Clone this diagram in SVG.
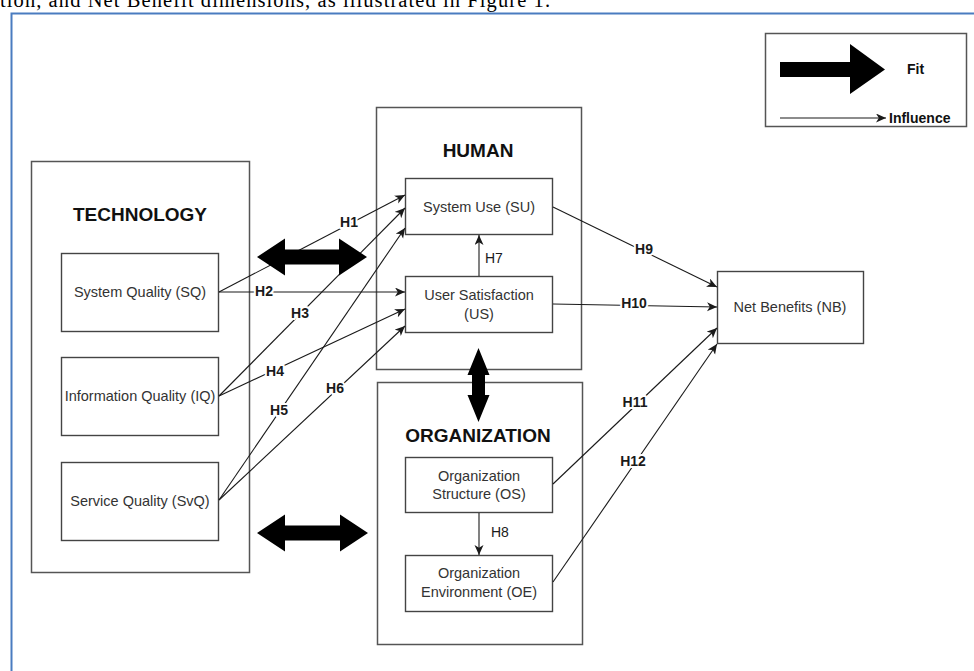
<svg xmlns="http://www.w3.org/2000/svg" width="974" height="671" viewBox="0 0 974 671">
<defs>
<style>
.grp{fill:#fff;stroke:#555;stroke-width:1.5}
.box{fill:#fff;stroke:#444;stroke-width:1.4}
.ttl{font-family:"Liberation Sans",Arial,sans-serif;font-size:19px;font-weight:bold;fill:#111;text-anchor:middle}
.txt{font-family:"Liberation Sans",Arial,sans-serif;font-size:14.5px;fill:#333;text-anchor:middle}
.ln{fill:none;stroke:#1a1a1a;stroke-width:1.1}
.lbl{font-family:"Liberation Sans",Arial,sans-serif;font-size:14px;font-weight:bold;fill:#1a1a1a;text-anchor:middle;dominant-baseline:central;paint-order:stroke;stroke:#fff;stroke-width:4px;stroke-linejoin:round}
.lblr{font-family:"Liberation Sans",Arial,sans-serif;font-size:14px;fill:#1a1a1a;dominant-baseline:central}
.fit{fill:#000}
.leg{font-family:"Liberation Sans",Arial,sans-serif;font-size:14px;font-weight:bold;fill:#111;dominant-baseline:central}
</style>
<marker id="ah" markerUnits="userSpaceOnUse" markerWidth="11" markerHeight="10" refX="10" refY="4.5" orient="auto">
<path d="M0,0 L10,4.5 L0,9 L2.8,4.5 Z" fill="#1a1a1a"/>
</marker>
</defs>
<rect width="974" height="671" fill="#fff"/>
<text x="0" y="7" font-family="'Liberation Serif','Times New Roman',serif" font-size="20.5" textLength="550" fill="#000">tion, and Net Benefit dimensions, as illustrated in Figure 1.</text>
<path d="M11.5,671 V13.5 H974" fill="none" stroke="#4a7cc0" stroke-width="2"/>

<g id="legend">
<rect x="765.5" y="33.5" width="201" height="93" class="grp"/>
<polygon class="fit" points="780,62 850,62 850,44 885,69.5 850,94 850,77 780,77"/>
<text x="907" y="69" class="leg">Fit</text>
<line x1="780" y1="118" x2="886" y2="118" class="ln" marker-end="url(#ah)"/>
<text x="889" y="118" class="leg">Influence</text>
</g>

<g id="technology">
<rect x="31.5" y="161.5" width="218" height="411" class="grp"/>
<text x="140" y="221" class="ttl">TECHNOLOGY</text>
</g>
<g id="sq">
<rect x="61.5" y="253.5" width="157" height="78" class="box"/>
<text x="140" y="297" class="txt">System Quality (SQ)</text>
</g>
<g id="iq">
<rect x="61.5" y="357.5" width="157" height="78" class="box"/>
<text x="140" y="401" class="txt">Information Quality (IQ)</text>
</g>
<g id="svq">
<rect x="61.5" y="462.5" width="157" height="78" class="box"/>
<text x="140" y="506" class="txt">Service Quality (SvQ)</text>
</g>

<g id="human">
<rect x="376.5" y="107.5" width="205" height="262" class="grp"/>
<text x="478" y="157" class="ttl">HUMAN</text>
</g>
<g id="su">
<rect x="405.5" y="178.5" width="147" height="56" class="box"/>
<text x="479" y="212" class="txt">System Use (SU)</text>
</g>
<g id="us">
<rect x="405.5" y="276.5" width="147" height="56" class="box"/>
<text x="479" y="300" class="txt">User Satisfaction</text>
<text x="479" y="319" class="txt">(US)</text>
</g>

<g id="organization">
<rect x="377.5" y="382.5" width="205" height="262" class="grp"/>
<text x="478" y="442" class="ttl">ORGANIZATION</text>
</g>
<g id="os">
<rect x="405.5" y="457.5" width="147" height="55" class="box"/>
<text x="479" y="481" class="txt">Organization</text>
<text x="479" y="499" class="txt">Structure (OS)</text>
</g>
<g id="oe">
<rect x="405.5" y="555.5" width="147" height="56" class="box"/>
<text x="479" y="578" class="txt">Organization</text>
<text x="479" y="597" class="txt">Environment (OE)</text>
</g>

<g id="nb">
<rect x="717.5" y="271.5" width="146" height="72" class="box"/>
<text x="790" y="312" class="txt">Net Benefits (NB)</text>
</g>

<g id="connectors">
<line x1="219" y1="292" x2="405" y2="195" class="ln" marker-end="url(#ah)"/>
<line x1="219" y1="292" x2="405" y2="292" class="ln" marker-end="url(#ah)"/>
<line x1="219" y1="396" x2="405" y2="208" class="ln" marker-end="url(#ah)"/>
<line x1="219" y1="396" x2="405" y2="309" class="ln" marker-end="url(#ah)"/>
<line x1="219" y1="500" x2="405" y2="228" class="ln" marker-end="url(#ah)"/>
<line x1="219" y1="500" x2="405" y2="326" class="ln" marker-end="url(#ah)"/>
<line x1="479" y1="276" x2="479" y2="235" class="ln" marker-end="url(#ah)"/>
<line x1="479" y1="513" x2="479" y2="555" class="ln" marker-end="url(#ah)"/>
<line x1="553" y1="207" x2="717" y2="287" class="ln" marker-end="url(#ah)"/>
<line x1="553" y1="304" x2="717" y2="307" class="ln" marker-end="url(#ah)"/>
<line x1="553" y1="484" x2="717" y2="328" class="ln" marker-end="url(#ah)"/>
<line x1="553" y1="582" x2="717" y2="344" class="ln" marker-end="url(#ah)"/>
<polygon class="fit" points="257,257 285,238.5 285,249.5 339,249.5 339,238.5 367,257 339,275.5 339,264.5 285,264.5 285,275.5"/>
<polygon class="fit" points="257,533 285,514.5 285,525.5 340,525.5 340,514.5 368,533 340,551.5 340,540.5 285,540.5 285,551.5"/>
<polygon class="fit" points="478.5,348 489.5,375 485,375 485,395 489.5,395 478.5,422 467.5,395 472,395 472,375 467.5,375"/>
<text x="349" y="222" class="lbl">H1</text>
<text x="264" y="291" class="lbl">H2</text>
<text x="300" y="313" class="lbl">H3</text>
<text x="275" y="371" class="lbl">H4</text>
<text x="279" y="410" class="lbl">H5</text>
<text x="335" y="388" class="lbl">H6</text>
<text x="485" y="258" class="lblr">H7</text>
<text x="491" y="532" class="lblr">H8</text>
<text x="644" y="249" class="lbl">H9</text>
<text x="634" y="303" class="lbl">H10</text>
<text x="635" y="402" class="lbl">H11</text>
<text x="633" y="461" class="lbl">H12</text>
</g>
</svg>
